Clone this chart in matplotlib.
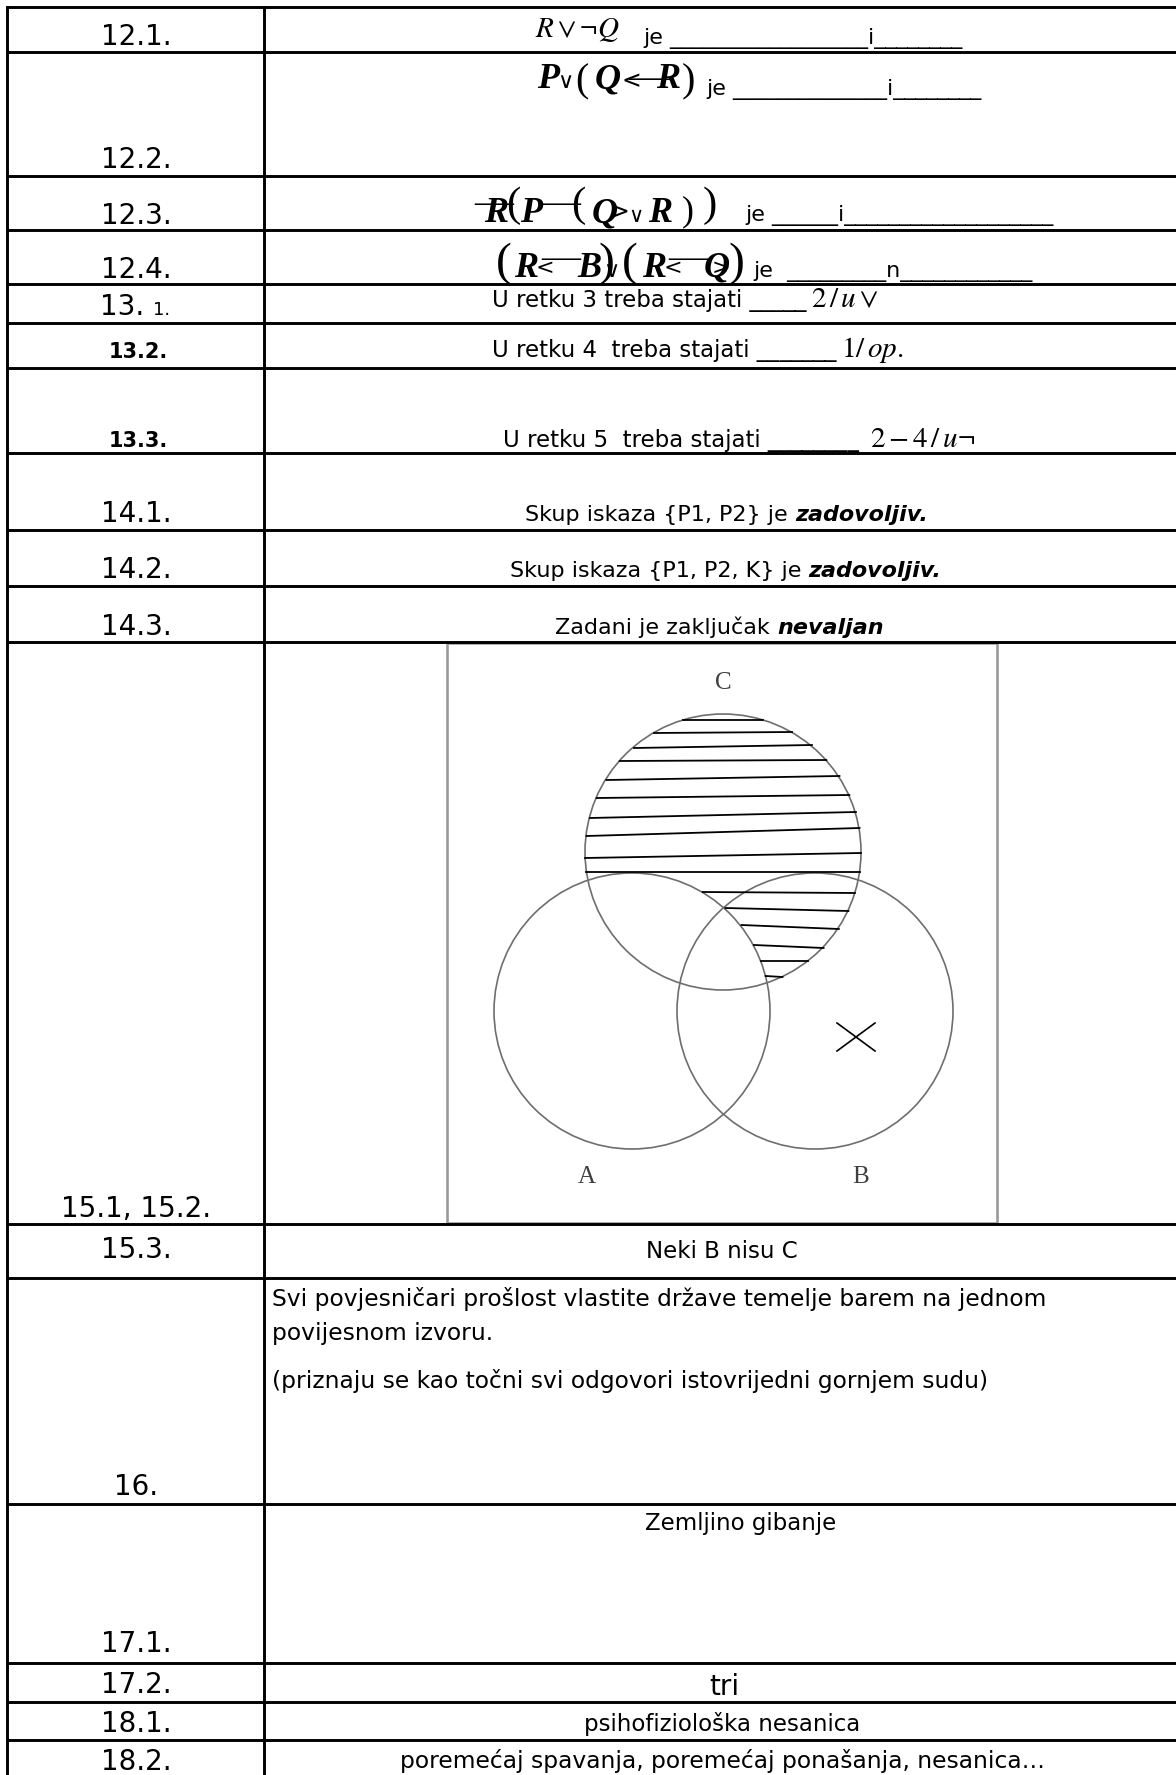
import matplotlib.pyplot as plt
import numpy as np
from matplotlib.patches import Circle, Rectangle

plt.rcParams['mathtext.fontset'] = 'stix'
plt.rcParams['font.family'] = ['DejaVu Sans']

W, H = 1176, 1775

# ---- table content ----
labels = ["12.1.", "12.2.", "12.3.", "12.4.", "13.", "13.2.", "13.3.", "14.1.", "14.2.", "14.3.",
          "15.1, 15.2.", "15.3.", "16.", "17.1.", "17.2.", "18.1.", "18.2."]
label_base = [45, 168, 224, 278, 315, 358, 447, 522, 578, 635,
              1217, 1258, 1495, 1652, 1693, 1732, 1770]
row_edges = [7, 52, 176, 230, 284, 323, 368, 453, 530, 586, 642, 1224, 1278, 1504, 1663, 1702, 1740]

blanks_12 = [("je " + "_" * 18 + "i" + "_" * 8, 643, 44),
             ("je " + "_" * 14 + "i" + "_" * 8, 706, 95),
             ("je " + "_" * 6 + "i" + "_" * 19, 745, 221),
             ("je  " + "_" * 9 + "n" + "_" * 12, 753, 277)]

retku_text = ["U retku 3 treba stajati " + "_" * 5,
              "U retku 4  treba stajati " + "_" * 7,
              "U retku 5  treba stajati " + "_" * 8]
retku_math = [r"$2\,/\,u\vee$", r"$1/\,op.$", r"$2-4\,/\,u\neg$"]

skup = [("Skup iskaza {P1, P2} je ", "zadovoljiv."),
        ("Skup iskaza {P1, P2, K} je ", "zadovoljiv."),
        ("Zadani je zaključak ", "nevaljan")]

answer_16 = ["Svi povjesničari prošlost vlastite države temelje barem na jednom",
             "povijesnom izvoru.",
             "(priznaju se kao točni svi odgovori istovrijedni gornjem sudu)"]

short_answers = ["Neki B nisu C", "Zemljino gibanje", "tri", "psihofiziološka nesanica",
                 "poremećaj spavanja, poremećaj ponašanja, nesanica…"]

# garbled equation-editor formulas: (glyph, x, baseline, font, size)
f122 = [("P", 537, 88, 'bi', 26), ("∨", 557, 88, 'sym', 16), ("(", 575, 91, 'paren', 29),
        ("Q", 595, 88, 'bi', 26), ("<", 622, 88, 'sym', 17), ("—", 628, 89, 'paren', 30),
        ("R", 656, 88, 'bi', 26), (")", 682, 91, 'paren', 29)]
f123 = [("—", 474, 213, 'paren', 28), ("R", 484, 222, 'bi', 26), ("(", 506, 216, 'paren', 31),
        ("P", 520, 222, 'bi', 26), ("—", 541, 213, 'paren', 28), ("(", 571, 216, 'paren', 31),
        ("Q", 592, 222, 'bi', 26), (">", 610, 219, 'sym', 17), ("∨", 628, 222, 'sym', 15),
        ("R", 648, 222, 'bi', 26), (")", 682, 220, 'paren', 26), (")", 703, 216, 'paren', 31)]
f124 = [("(", 496, 275, 'paren', 34), ("R", 514, 277, 'bi', 26), ("<", 536, 274, 'sym', 16),
        ("—", 541, 268, 'paren', 28), ("B", 577, 277, 'bi', 26), (")", 598, 275, 'paren', 34),
        ("∨", 603, 277, 'sym', 16), ("(", 622, 275, 'paren', 34), ("R", 642, 277, 'bi', 26),
        ("<", 664, 274, 'sym', 16), ("—", 668, 268, 'paren', 28), ("Q", 704, 277, 'bi', 26),
        (">", 712, 274, 'sym', 16), (")", 728, 275, 'paren', 34)]

# ---- Venn diagram ----
venn_sets = ["A", "B", "C"]
venn_cx = [632, 815, 723]
venn_cy = [1011, 1011, 852]
venn_r = 138
hatch_left = [720, 733, 748, 761, 780, 798, 818, 836, 858, 872, 892, 908, 925, 945, 961, 976]
hatch_right = [720, 732, 745, 760, 776, 795, 812, 828, 853, 872, 893, 911, 929, 948, 961, 977]
cross_xy = (856, 1037)

fonts = {
    'bi': dict(family='Liberation Serif', style='italic', weight='bold'),
    'paren': dict(family='Liberation Serif'),
    'sym': dict(family='DejaVu Sans'),
}

fig = plt.figure(figsize=(W / 100, H / 100), dpi=100)
ax = fig.add_axes([0, 0, 1, 1])
ax.set_xlim(0, W)
ax.set_ylim(H, 0)
ax.axis('off')

# venn picture box
ax.add_patch(Rectangle((447, 643), 550, 580, fill=False, edgecolor='#9a9a9a', lw=1.9, zorder=1))

for name, cx, cy in zip(venn_sets, venn_cx, venn_cy):
    ax.add_patch(Circle((cx, cy), venn_r, fill=False, edgecolor='#6e6e6e', lw=1.2, zorder=2))

for name, (lx, ly) in zip(venn_sets, [(587, 1177), (861, 1177), (723, 683)]):
    ax.text(lx, ly, name, family='Liberation Serif', fontsize=18, color='#404040', ha='center', va='center')

# hatching: C minus A
a_x, a_y = venn_cx[0], venn_cy[0]
c_x, c_y = venn_cx[2], venn_cy[2]
for yl, yr in zip(hatch_left, hatch_right):
    ym = (yl + yr) / 2
    half = np.sqrt(venn_r ** 2 - (ym - c_y) ** 2)
    x0, x1 = c_x - half, c_x + half
    if abs(ym - a_y) < venn_r:
        x0 = a_x + np.sqrt(venn_r ** 2 - (ym - a_y) ** 2)
    ax.plot([x0, x1], [yl, yr], color='black', lw=1.3, zorder=3)

# "x" in B only (exists)
ax.plot([cross_xy[0] - 19, cross_xy[0] + 19], [cross_xy[1] - 14, cross_xy[1] + 14], color='black', lw=1.2)
ax.plot([cross_xy[0] - 19, cross_xy[0] + 19], [cross_xy[1] + 14, cross_xy[1] - 14], color='black', lw=1.2)

# table grid
for y in row_edges:
    ax.plot([7, W], [y, y], color='black', lw=2.1, solid_capstyle='butt', zorder=4)
ax.plot([7, 7], [7, H], color='black', lw=2.1, zorder=4)
ax.plot([264, 264], [7, H], color='black', lw=2.1, zorder=4)

# left column labels
for lab, yb in zip(labels, label_base):
    if lab in ("13.2.", "13.3."):
        ax.text(138, yb, lab, fontsize=15, weight='bold', ha='center', va='baseline')
    elif lab == "13.":
        ax.text(100, yb, lab, fontsize=20, ha='left', va='baseline')
        ax.text(153, yb, "1.", fontsize=13, ha='left', va='baseline')
    else:
        ax.text(136, yb, lab, fontsize=20, ha='center', va='baseline')

# 12.x formulas
ax.text(535, 37, r"$R\vee\neg Q$", fontsize=21, va='baseline')
for formula in (f122, f123, f124):
    for glyph, x, yb, key, size in formula:
        ax.text(x, yb, glyph, fontsize=size, va='baseline', ha='left', **fonts[key])
for txt, x, yb in blanks_12:
    ax.text(x, yb, txt, fontsize=16, va='baseline')

# 13.x
for txt, mth, x, xm, yb in zip(retku_text, retku_math, [492, 492, 503], [811, 841, 870], [307, 357, 447]):
    ax.text(x, yb, txt, fontsize=16.5, va='baseline')
    ax.text(xm, yb, mth, fontsize=21, va='baseline')

# 14.x
for (plain, emph), x, yb in zip(skup, [525, 510, 555], [521, 577, 634]):
    t = ax.text(x, yb, plain, fontsize=16, va='baseline')
    ax.annotate(emph, xy=(1, 0), xycoords=t, fontsize=16, weight='bold', style='italic',
                ha='left', va='bottom')

# 15.3, 17.x, 18.x
for txt, x, yb, size in zip(short_answers, [722, 741, 724, 722, 722],
                            [1258, 1530, 1695, 1731, 1768], [16.5, 16.5, 20, 16.5, 16.8]):
    ax.text(x, yb, txt, fontsize=size, ha='center', va='baseline')

# 16
for txt, yb in zip(answer_16, [1306, 1340, 1388]):
    ax.text(272, yb, txt, fontsize=16.8, va='baseline')

fig.savefig("out.png", dpi=100, facecolor='white')
